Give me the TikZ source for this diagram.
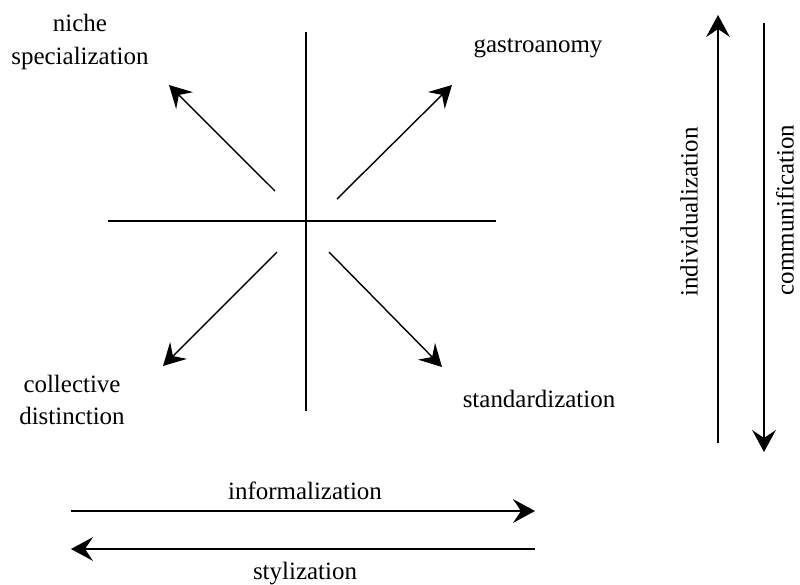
\documentclass[tikz,border=0pt]{standalone}
\usepackage{fontspec}
\setmainfont{Liberation Serif}
\usetikzlibrary{arrows.meta}

\begin{document}
\begin{tikzpicture}[
		l/.style = {font=\fontsize{14.2}{18.5}\selectfont, align=center, inner sep=0pt},
		ax/.style = {line width=0.8pt},
		r/.style = {-{Stealth[length=12.5pt, width=13.5pt, inset=4.5pt]}, line width=0.8pt},
		]
		\useasboundingbox (-6.12, -7.26) rectangle (9.88, 4.42);
		
		% === === Nodes === ===
		\node[l]	(niche)	at	(-4.52, 3.58)	{niche\\specialization};
		\node[l]	(gastro)	at	(4.64, 3.46)	{gastroanomy};
		\node[l]	(coll)	at	(-4.68, -3.58)	{collective\\distinction};
		\node[l]	(stand)	at	(4.66, -3.56)	{standardization};
		\node[l, rotate=90]	(indiv)	at	(7.66, 0.18)	{individualization};
		\node[l, rotate=90]	(comm)	at	(9.58, 0.22)	{communification};
		\node[l]	(inform)	at	(-0.02, -5.40)	{informalization};
		\node[l]	(styl)	at	(-0.02, -7.06)	{stylization};
		
		% === === Coordinates === ===
		\coordinate (vt) at (0, 3.78);
		\coordinate (vb) at (0, -3.80);
		\coordinate (hl) at (-3.96, 0);
		\coordinate (hr) at (3.80, 0);
		\coordinate (nw0) at (-0.62, 0.60);	\coordinate (nw1) at (-2.74, 2.72);
		\coordinate (ne0) at (0.62, 0.44);	\coordinate (ne1) at (2.92, 2.72);
		\coordinate (sw0) at (-0.58, -0.62);	\coordinate (sw1) at (-2.86, -2.90);
		\coordinate (se0) at (0.46, -0.62);	\coordinate (se1) at (2.72, -2.92);
		\coordinate (up0) at (8.24, -4.44);	\coordinate (up1) at (8.24, 4.12);
		\coordinate (dn0) at (9.16, 3.96);	\coordinate (dn1) at (9.16, -4.62);
		\coordinate (in0) at (-4.70, -5.80);	\coordinate (in1) at (4.58, -5.80);
		\coordinate (st0) at (4.58, -6.56);	\coordinate (st1) at (-4.70, -6.56);
		
		% === === Lines === ===
		\draw[ax]	(vt)	--	(vb);
		\draw[ax]	(hl)	--	(hr);
		\draw[r]	(nw0)	--	(nw1);
		\draw[r]	(ne0)	--	(ne1);
		\draw[r]	(sw0)	--	(sw1);
		\draw[r]	(se0)	--	(se1);
		\draw[r]	(up0)	--	(up1);
		\draw[r]	(dn0)	--	(dn1);
		\draw[r]	(in0)	--	(in1);
		\draw[r]	(st0)	--	(st1);
		
	\end{tikzpicture}
\end{document}
